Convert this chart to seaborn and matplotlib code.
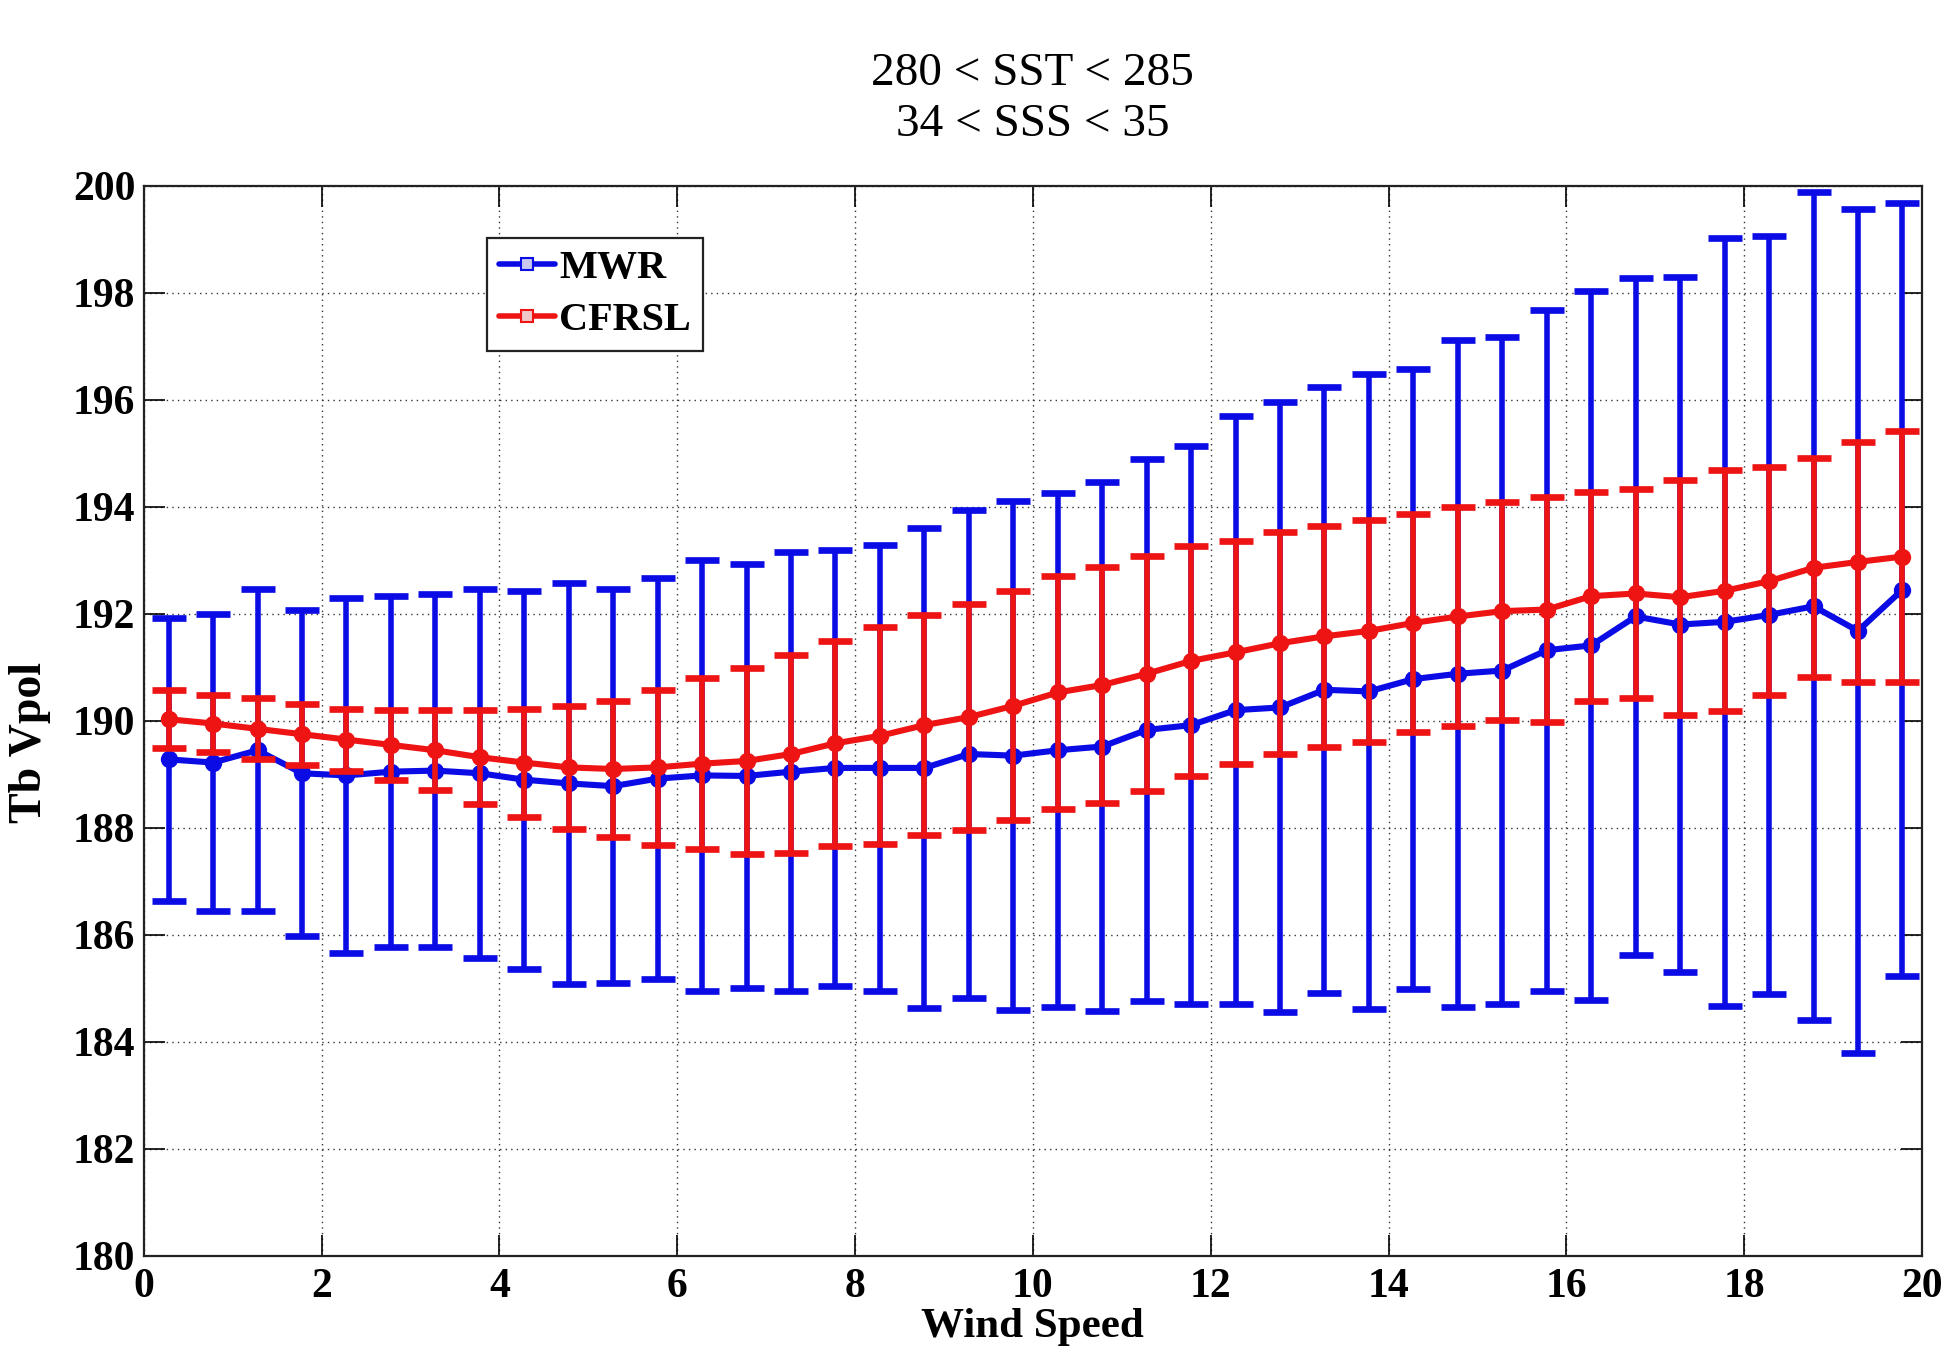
import numpy as np
import pandas as pd
import matplotlib
matplotlib.use("Agg")
import matplotlib.pyplot as plt
from matplotlib.lines import Line2D
import seaborn as sns

# Wind-speed bin centres
wind_speed = [0.28, 0.78, 1.28, 1.78, 2.28, 2.78, 3.28, 3.78, 4.28, 4.78,
              5.28, 5.78, 6.28, 6.78, 7.28, 7.78, 8.28, 8.78, 9.28, 9.78,
              10.28, 10.78, 11.28, 11.78, 12.28, 12.78, 13.28, 13.78, 14.28, 14.78,
              15.28, 15.78, 16.28, 16.78, 17.28, 17.78, 18.28, 18.78, 19.28, 19.78]

# MWR brightness temperature (mean and standard deviation per bin)
mwr_mean = [189.28, 189.22, 189.45, 189.02, 188.98, 189.05, 189.07, 189.02, 188.90, 188.83,
            188.78, 188.92, 188.98, 188.97, 189.05, 189.12, 189.12, 189.12, 189.38, 189.35,
            189.45, 189.52, 189.83, 189.92, 190.20, 190.25, 190.58, 190.55, 190.78, 190.88,
            190.94, 191.32, 191.41, 191.95, 191.80, 191.85, 191.98, 192.14, 191.68, 192.45]
mwr_std = [2.64, 2.78, 3.01, 3.05, 3.32, 3.28, 3.30, 3.45, 3.53, 3.74,
           3.68, 3.75, 4.02, 3.96, 4.10, 4.08, 4.17, 4.48, 4.56, 4.76,
           4.80, 4.95, 5.06, 5.22, 5.49, 5.70, 5.66, 5.93, 5.79, 6.23,
           6.23, 6.36, 6.63, 6.32, 6.49, 7.17, 7.09, 7.74, 7.89, 7.22]

# CFRSL model brightness temperature (mean and standard deviation per bin)
cfrsl_mean = [190.03, 189.95, 189.85, 189.75, 189.65, 189.55, 189.45, 189.32, 189.22, 189.13,
              189.10, 189.13, 189.20, 189.25, 189.38, 189.58, 189.72, 189.92, 190.07, 190.28,
              190.53, 190.67, 190.88, 191.12, 191.28, 191.45, 191.58, 191.68, 191.83, 191.95,
              192.05, 192.08, 192.33, 192.38, 192.31, 192.43, 192.61, 192.86, 192.97, 193.07]
cfrsl_std = [0.54, 0.53, 0.57, 0.57, 0.58, 0.65, 0.75, 0.88, 1.01, 1.15,
             1.28, 1.45, 1.60, 1.73, 1.85, 1.92, 2.03, 2.06, 2.11, 2.14,
             2.17, 2.20, 2.20, 2.15, 2.09, 2.07, 2.07, 2.07, 2.04, 2.05,
             2.04, 2.11, 1.95, 1.96, 2.20, 2.25, 2.13, 2.05, 2.24, 2.35]

series_names = ["MWR", "CFRSL"]
title_lines = ["280 < SST < 285", "34 < SSS < 35"]
x_ticks = [0, 2, 4, 6, 8, 10, 12, 14, 16, 18, 20]
y_ticks = [180, 182, 184, 186, 188, 190, 192, 194, 196, 198, 200]

BLUE = "#0b0be6"
RED = "#ee1414"

sns.set_theme(style="ticks")
plt.rcParams["font.family"] = ["Liberation Serif", "DejaVu Serif"]
plt.rcParams["font.weight"] = "bold"
plt.rcParams["text.color"] = "black"
plt.rcParams["axes.labelcolor"] = "black"

df = pd.DataFrame({
    "wind": wind_speed * 2,
    "tb": mwr_mean + cfrsl_mean,
    "sd": mwr_std + cfrsl_std,
    "source": [series_names[0]] * len(wind_speed) + [series_names[1]] * len(wind_speed),
})

fig = plt.figure(figsize=(19.42, 13.49), dpi=100)
ax = fig.add_axes([0.074, 0.069, 0.9157, 0.7933])

palette = {series_names[0]: BLUE, series_names[1]: RED}

for name in series_names:
    sub = df[df["source"] == name]
    ax.errorbar(sub["wind"], sub["tb"], yerr=sub["sd"], fmt="none",
                ecolor=palette[name], elinewidth=4.0, capsize=12.5, capthick=4.8,
                zorder=2 if name == "MWR" else 4)

sns.lineplot(data=df[df["source"] == "MWR"], x="wind", y="tb", ax=ax,
             color=BLUE, linewidth=4.4, marker="o", markersize=12.5,
             markeredgewidth=0, legend=False, zorder=3)
sns.lineplot(data=df[df["source"] == "CFRSL"], x="wind", y="tb", ax=ax,
             color=RED, linewidth=4.4, marker="o", markersize=12.5,
             markeredgewidth=0, legend=False, zorder=5)

ax.set_xlim(0, 20)
ax.set_ylim(180, 200)
ax.set_xticks(x_ticks)
ax.set_yticks(y_ticks)
ax.set_xticklabels([str(t) for t in x_ticks], fontsize=30, fontweight="bold")
ax.set_yticklabels([str(t) for t in y_ticks], fontsize=30, fontweight="bold")
ax.tick_params(direction="in", length=15, width=1.2, top=True, right=True,
               colors="black", pad=6)
ax.tick_params(axis="x", pad=9)

ax.grid(True, linestyle=(0, (1, 3)), color="#333333", linewidth=1.0)
for s in ax.spines.values():
    s.set_visible(True)
    s.set_color("#222222")
    s.set_linewidth(1.6)

ax.set_xlabel("Wind Speed", fontsize=31, fontweight="bold", va="top")
ax.xaxis.set_label_coords(0.5, -0.049)
ax.set_ylabel("Tb Vpol", fontsize=33, fontweight="bold")
ax.yaxis.set_label_coords(-0.052, 0.48)

ax.set_title("\n".join(title_lines), fontsize=34, fontweight="normal",
             linespacing=1.25, pad=36, color="black")

handles = [
    Line2D([], [], color=BLUE, linewidth=4, marker="s", markersize=9,
           markerfacecolor="#c8c8f0", markeredgecolor=BLUE, markeredgewidth=1.5),
    Line2D([], [], color=RED, linewidth=4, marker="s", markersize=9,
           markerfacecolor="#f0c8c8", markeredgecolor=RED, markeredgewidth=1.5),
]
leg = ax.legend(handles, series_names, loc="upper left",
                bbox_to_anchor=(0.193, 0.951), fontsize=29, frameon=True,
                fancybox=False, edgecolor="#222222", framealpha=1,
                handlelength=1.4, handletextpad=0.1, borderpad=0.3,
                labelspacing=0.35, borderaxespad=0)
leg.get_frame().set_linewidth(1.6)
for t in leg.get_texts():
    t.set_fontweight("bold")
    t.set_color("black")
leg.set_zorder(10)

fig.savefig("out.png", dpi=100)
